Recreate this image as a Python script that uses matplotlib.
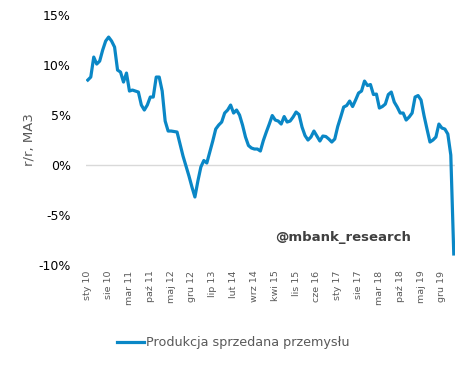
import matplotlib as mpl
import matplotlib.pyplot as plt
from matplotlib.ticker import FuncFormatter
import numpy as np

mpl.rcParams['font.family'] = ['DejaVu Sans']

# miesiace (styczen 2010 - kwiecien 2020)
miesiace = ['sty', 'lut', 'mar', 'kwi', 'maj', 'cze',
            'lip', 'sie', 'wrz', 'paź', 'lis', 'gru']
start_rok = 2010

# produkcja sprzedana przemyslu, r/r, MA3 (%)
produkcja = [8.5, 8.8, 10.8, 10.1, 10.4, 11.5, 12.4, 12.8, 12.4, 11.8,
             9.5, 9.3, 8.3, 9.2, 7.4, 7.5, 7.4, 7.3, 6.0, 5.5,
             6.0, 6.8, 6.8, 8.8, 8.8, 7.4, 4.4, 3.4, 3.4, 3.35,
             3.3, 2.1, 0.9, -0.1, -1.1, -2.2, -3.2, -1.6, -0.2, 0.45,
             0.2, 1.3, 2.4, 3.6, 4.0, 4.3, 5.2, 5.5, 6.0, 5.2,
             5.5, 5.0, 4.0, 2.8, 1.95, 1.7, 1.6, 1.6, 1.4, 2.45,
             3.3, 4.1, 4.95, 4.5, 4.4, 4.1, 4.85, 4.3, 4.4, 4.8,
             5.3, 5.05, 3.8, 2.95, 2.5, 2.8, 3.4, 2.9, 2.4, 2.9,
             2.85, 2.6, 2.3, 2.6, 3.85, 4.8, 5.8, 5.95, 6.4, 5.85,
             6.5, 7.2, 7.4, 8.4, 7.95, 8.05, 7.05, 7.1, 5.7, 5.85,
             6.1, 7.05, 7.3, 6.3, 5.8, 5.2, 5.2, 4.5, 4.8, 5.2,
             6.8, 6.95, 6.5, 4.95, 3.6, 2.3, 2.5, 2.8, 4.1, 3.7,
             3.6, 3.1, 1.0, -8.9]

etykiety = ['{} {:02d}'.format(miesiace[i % 12], (start_rok + i // 12) % 100)
            for i in range(len(produkcja))]

fig = plt.figure(figsize=(4.7, 3.68), dpi=100)
ax = fig.add_axes([0.183, 0.28, 0.785, 0.679])

x = np.arange(len(produkcja))
ax.plot(x, produkcja, color='#0a87c6', lw=2.3, solid_joinstyle='round',
        label='Produkcja sprzedana przemysłu', zorder=3)
ax.axhline(0, color='#d9d9d9', lw=1, zorder=1)

ax.set_xlim(-0.6, 123.4)
ax.set_ylim(-10, 15)
ax.set_yticks(np.arange(-10, 16, 5))
ax.yaxis.set_major_formatter(FuncFormatter(lambda v, p: '{:.0f}%'.format(v)))

ax.set_xticks(x[::7])
ax.set_xticklabels(etykiety[::7], rotation=90, color='#595959', fontsize=6.8)
ax.tick_params(axis='y', labelsize=9, colors='black', length=0, pad=11)
ax.tick_params(axis='x', length=0, pad=4)

for s in ax.spines.values():
    s.set_visible(False)

ax.set_ylabel('r/r, MA3', color='#595959', fontsize=9.5, labelpad=2)

ax.text(0.512, 0.108, '@mbank_research', transform=ax.transAxes,
        fontsize=9.5, fontweight='bold', color='#404040', va='center')

fig.legend(loc='center left', bbox_to_anchor=(0.236, 0.068), frameon=False,
           fontsize=9.2, handlelength=2.1, handletextpad=0.15, borderpad=0,
           labelcolor='#595959')

fig.savefig('out.png', dpi=100)
